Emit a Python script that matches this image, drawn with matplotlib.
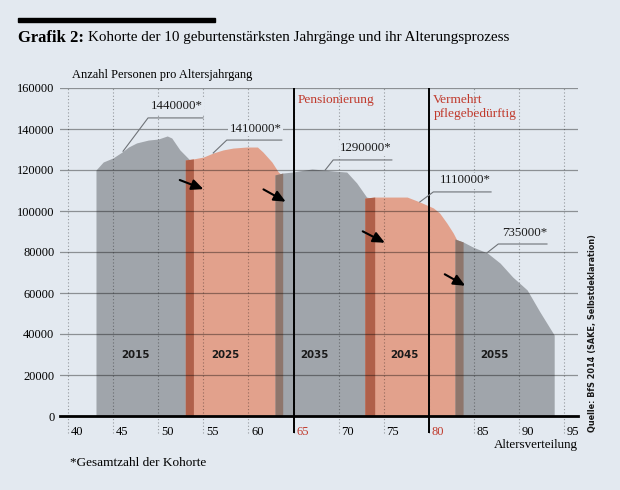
import numpy as np
import matplotlib
matplotlib.use('Agg')
import matplotlib.pyplot as plt
from matplotlib.transforms import ScaledTranslation
from matplotlib.patches import Rectangle

plt.rcParams['font.family'] = ['Liberation Serif', 'DejaVu Serif']

# Werte (Alter, Anzahl Personen)
years = ['2015', '2025', '2035', '2045', '2055']
totals = ['1440000*', '1410000*', '1290000*', '1110000*', '735000*']

ages_2015 = [43.1, 43.9, 45.0, 46.0, 46.7, 47.6, 48.9, 50.0, 51.0, 51.5, 52.4, 53.5, 53.9]
pers_2015 = [120000, 123900, 125900, 128800, 131200, 133200, 134600, 135100, 136600, 135600, 129800, 124900, 124000]

ages_2025 = [53.0, 53.9, 55.0, 56.1, 57.2, 58.3, 59.8, 61.0, 61.6, 62.6, 63.3, 63.8]
pers_2025 = [124900, 125400, 126300, 128300, 129800, 130700, 131200, 131200, 128800, 123900, 119100, 117100]

ages_2035 = [62.95, 63.8, 64.9, 67.05, 68.3, 69.4, 70.9, 72.0, 73.1, 74.0]
pers_2035 = [117600, 118500, 119000, 120500, 120000, 119500, 119000, 113700, 106800, 105900]

ages_2045 = [72.9, 74.0, 75.7, 77.6, 79.0, 80.5, 81.2, 82.0, 82.7, 83.1, 83.9]
pers_2045 = [106300, 106800, 106800, 106800, 104400, 101500, 99000, 94100, 89300, 85900, 84400]

ages_2055 = [82.9, 83.8, 84.9, 86.5, 87.9, 89.3, 90.9, 92.3, 93.9]
pers_2055 = [86300, 84900, 82400, 79500, 74600, 67800, 61500, 50900, 39500]

cohort_ages = [ages_2015, ages_2025, ages_2035, ages_2045, ages_2055]
cohort_pers = [pers_2015, pers_2025, pers_2035, pers_2045, pers_2055]

yticks = [0, 20000, 40000, 60000, 80000, 100000, 120000, 140000, 160000]
ytick_labels = ['0', '20000', '40000', '60000', '80000', '100000', '120000', '140000', '160000']
xticks = [40, 45, 50, 55, 60, 65, 70, 75, 80, 85, 90, 95]
marker_ages = [65, 80]
marker_texts = ['Pensionierung', 'Vermehrt\npflegebedürftig']

# Beschriftung der Kohorten-Totale: Punkt auf Kurve, Knick, Linienende
lead_age = [46.1, 56.1, 68.5, 79.0, 86.45]
elbow_age = [48.87, 57.6, 69.4, 80.5, 87.7]
elbow_val = [145400, 134600, 124900, 109300, 83900]
line_end = [54.97, 63.7, 75.9, 86.9, 93.1]

# Pfeile (von -> nach)
arrows = [(52.1, 115600, 55.3, 110200),
          (61.4, 111200, 64.4, 103900),
          (72.4, 90700, 75.4, 83900),
          (81.5, 69800, 84.3, 62900)]

bg = '#e3e9f0'
grey = '#a0a5ab'
salmon = '#e2a18c'
rust = '#b0604a'
brown = '#8e766c'
red = '#c0392b'

fig = plt.figure(figsize=(6.2, 4.9), dpi=100)
fig.patch.set_facecolor(bg)
ax = fig.add_axes([60/620, 74/490, 518/620, 328/490])
ax.set_facecolor(bg)

fill_cols = [grey, salmon, grey, salmon, grey]
band_cols = [None, rust, brown, rust, brown]
for i in range(5):
    a = cohort_ages[i]
    p = cohort_pers[i]
    ax.fill_between(a, p, 0, color=fill_cols[i], lw=0, zorder=2 + i * 0.1)
    if band_cols[i]:
        ax.fill_between(a[:2], p[:2], 0, color=band_cols[i], lw=0, zorder=2.05 + i * 0.1)
    ax.text(a[0] + 4.4, 30000, years[i], ha='center', va='center', fontsize=7.4,
            fontweight='bold', family='DejaVu Sans', color='#1a1a1a', zorder=8)

ax.set_xlim(39.11, 96.54)
ax.set_ylim(0, 160000)

# Gitter
for v in yticks[1:]:
    ax.axhline(v, color='black', alpha=0.38, lw=0.9, zorder=4)
ax.vlines(xticks, -8300, 160000, colors='black', alpha=0.35, lw=0.8,
          linestyles=(0, (1, 2)), zorder=4, clip_on=False)
ax.vlines(marker_ages, -8300, 160000, colors='black', lw=1.4, zorder=5, clip_on=False)

for xm, t in zip(marker_ages, marker_texts):
    ax.text(xm + 0.5, 157300, t, ha='left', va='top', color=red, fontsize=9.6,
            linespacing=1.25, zorder=6)

for x0, y0, x1, y1 in arrows:
    ax.annotate('', xy=(x1, y1), xytext=(x0, y0),
                arrowprops=dict(arrowstyle='-|>,head_length=0.7,head_width=0.32',
                                color='black', lw=1.5), zorder=7)

for i in range(5):
    y_on = np.interp(lead_age[i], cohort_ages[i], cohort_pers[i])
    ax.plot([lead_age[i], elbow_age[i], line_end[i]], [y_on, elbow_val[i], elbow_val[i]],
            color='#6f7378', lw=0.8, zorder=6)
    ax.text(line_end[i], elbow_val[i] + 5600, totals[i], ha='right', va='center',
            fontsize=9.3, color='#1a1a1a', zorder=7,
            bbox=dict(facecolor=bg, edgecolor='none', pad=1.0))

for s in ['top', 'right', 'left']:
    ax.spines[s].set_visible(False)
ax.spines['bottom'].set_linewidth(2.0)
ax.spines['bottom'].set_color('black')
ax.spines['bottom'].set_zorder(6)

ax.set_yticks(yticks)
ax.set_yticklabels(ytick_labels, fontsize=8.9)
ax.set_xticks(xticks)
ax.set_xticklabels([str(v) for v in xticks], fontsize=9)
ax.tick_params(axis='both', length=0)
ax.tick_params(axis='y', pad=4)
ax.tick_params(axis='x', pad=7)
shift = ScaledTranslation(0.09, 0, fig.dpi_scale_trans)
for lab, v in zip(ax.get_xticklabels(), xticks):
    lab.set_transform(lab.get_transform() + shift)
    if v in marker_ages:
        lab.set_color(red)

ax.text((72 - 60) / 518, 1.02, 'Anzahl Personen pro Altersjahrgang', transform=ax.transAxes,
        fontsize=8.9, ha='left', va='bottom')
fig.text(578/620, 1 - 445/490, 'Altersverteilung', ha='right', va='center', fontsize=9.4)
fig.text(70/620, 1 - 463/490, '*Gesamtzahl der Kohorte', ha='left', va='center', fontsize=9.5)
fig.text(593/620, 1 - 432/490, 'Quelle: BfS 2014 (SAKE, Selbstdeklaration)', rotation=90,
         ha='center', va='bottom', fontsize=5.9, fontweight='bold', family='DejaVu Sans',
         color='#1a1a1a')

# Titel
fig.patches.append(Rectangle((18/620, 1 - 22/490), 197/620, 3.5/490, transform=fig.transFigure,
                             color='black', figure=fig))
t1 = fig.text(18/620, 1 - 38/490, 'Grafik 2:', fontsize=12, fontweight='bold',
              ha='left', va='center')
r = fig.canvas.get_renderer()
bb = t1.get_window_extent(r)
fig.text(bb.x1 / fig.bbox.width + 4/620, 1 - 38/490,
         'Kohorte der 10 geburtenstärksten Jahrgänge und ihr Alterungsprozess',
         fontsize=10.9, ha='left', va='center')

fig.savefig('out.png', dpi=100, facecolor=bg)
